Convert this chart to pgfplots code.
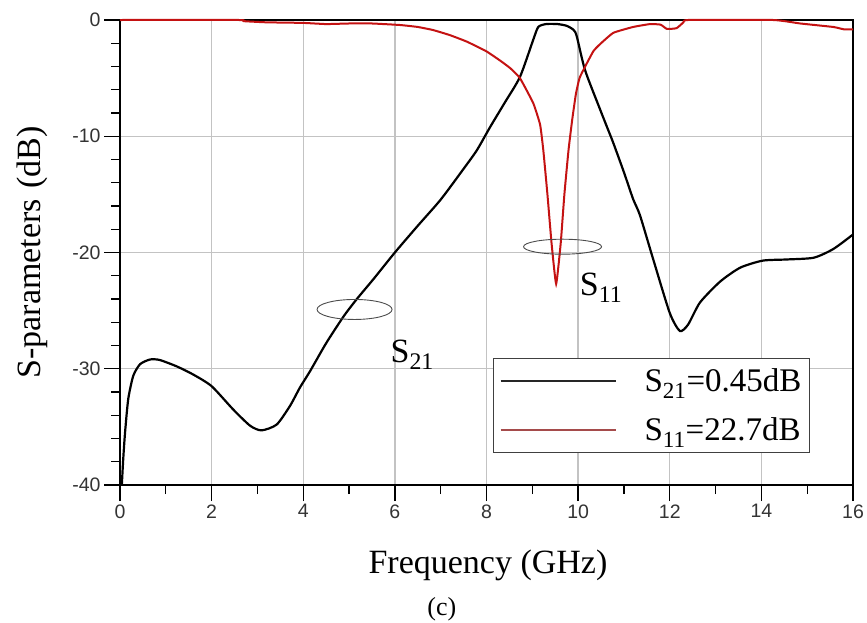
\documentclass[border=0pt]{standalone}
\usepackage{fontspec}
\setmainfont{Liberation Serif}
\newfontfamily\tickfont{Liberation Sans}
\usepackage{pgfplots}
\pgfplotsset{compat=1.18}
\definecolor{s11red}{RGB}{196,18,18}
\definecolor{legred}{RGB}{165,75,75}
\definecolor{gridgray}{RGB}{195,195,195}

\begin{document}
\begin{tikzpicture}[x=1pt,y=1pt]
\useasboundingbox (0,0) rectangle (867,622);
\begin{axis}[
  at={(120pt,137pt)}, anchor=south west,
  scale only axis, width=733pt, height=465pt,
  xmin=0, xmax=16, ymin=-40, ymax=0,
  xtick={0,2,...,16}, ytick={-40,-30,...,0},
  minor x tick num=1, minor y tick num=4,
  tick pos=left, tick align=outside,
  major tick length=16pt, minor tick length=9pt,
  every tick/.style={black, line width=1.3pt},
  grid=major, major grid style={gridgray, line width=1.3pt},
  axis line style={black, line width=1.3pt},
  clip=false,
  /pgf/number format/assume math mode=true,
  ticklabel style={font=\tickfont\fontsize{19.5}{20}\selectfont, text=black!80},
  xlabel={Frequency (GHz)},
  xlabel style={at={(axis description cs:0.502,-0.172)}, anchor=center, font=\fontsize{34}{38}\selectfont},
  ylabel={S-parameters\hspace{0.3em}(dB)},
  ylabel style={at={(axis description cs:-0.12,0.5)}, anchor=center, font=\fontsize{34}{38}\selectfont},
  legend style={at={(axis description cs:0.509,0.273)}, anchor=north west, draw=black!75, line width=0.9pt, fill=white,
    font=\fontsize{33}{36}\selectfont, inner xsep=6pt, inner ysep=8pt, row sep=21pt,
    /tikz/every odd column/.append style={column sep=26pt}},
  legend cell align=left,
  legend image code/.code={\draw[#1] (0pt,0pt) -- (115pt,0pt);},
]
\addlegendimage{black!85, line width=2pt}
\addlegendentry{S\textsubscript{21}=0.45dB}
\addlegendimage{legred, line width=1.6pt}
\addlegendentry{S\textsubscript{11}=22.7dB}

\addplot[forget plot, black, line width=2.2pt, smooth, tension=0.4] coordinates {
(0.04,-40) (0.07,-37.8) (0.11,-35.5) (0.18,-32.6) (0.29,-30.6) (0.44,-29.6) (0.66,-29.2)
(0.87,-29.25) (1.24,-29.8) (1.6,-30.5) (2.0,-31.5) (2.47,-33.5) (2.84,-34.9) (3.09,-35.3)
(3.42,-34.8) (3.71,-33.2) (3.93,-31.6) (4.15,-30.2) (4.5,-27.8) (4.88,-25.5) (5.17,-24.0)
(5.53,-22.3) (6.0,-20.0) (6.5,-17.7) (7.0,-15.45) (7.5,-12.8) (7.79,-11.2) (8.08,-9.2)
(8.4,-7.1) (8.73,-4.9) (9.02,-1.7) (9.13,-0.6) (9.3,-0.35) (9.55,-0.35) (9.75,-0.5)
(9.9,-0.85) (9.97,-1.4) (10.15,-4.3) (10.48,-7.7) (10.63,-9.2) (10.77,-10.6) (11.0,-13.1)
(11.2,-15.4) (11.35,-16.8) (11.64,-20.6) (12.0,-25.2) (12.22,-26.75) (12.4,-26.2)
(12.66,-24.3) (13.1,-22.5) (13.54,-21.3) (14.03,-20.7) (14.55,-20.6) (15.14,-20.45)
(15.57,-19.7) (16,-18.45)
};
\addplot[forget plot, s11red, line width=2pt, smooth, tension=0.25] coordinates {
(0,0) (2.6,0) (2.7,-0.1) (3.2,-0.2) (4.0,-0.25) (4.5,-0.35) (5.0,-0.3) (5.5,-0.3)
(6.11,-0.43) (6.5,-0.6) (6.83,-0.86) (7.2,-1.3) (7.57,-1.86) (8.0,-2.7) (8.3,-3.5)
(8.52,-4.15) (8.73,-5.0) (9.02,-7.15) (9.17,-9.0) (9.24,-11.2) (9.33,-15) (9.42,-19.2)
(9.52,-22.7) (9.62,-19.2) (9.7,-15) (9.79,-11.2) (9.87,-8.6) (9.95,-6.4) (10.04,-4.9)
(10.33,-2.7) (10.5,-2.0) (10.77,-1.1) (11.2,-0.6) (11.57,-0.35) (11.8,-0.4) (11.94,-0.77)
(12.15,-0.7) (12.3,-0.2) (12.4,0) (14.26,0) (14.85,-0.3) (15.57,-0.6) (15.8,-0.8) (16,-0.8)
};

\draw[black!70, line width=0.9pt] (axis cs:5.12,-24.9) ellipse [x radius=37.5pt, y radius=10pt];
\draw[black!70, line width=0.9pt] (axis cs:9.66,-19.5) ellipse [x radius=39pt, y radius=7.5pt];
\node[font=\fontsize{34}{38}\selectfont] at (axis cs:6.38,-28.8) {S\textsubscript{21}};
\node[font=\fontsize{34}{38}\selectfont] at (axis cs:10.5,-23.0) {S\textsubscript{11}};
\node[font=\fontsize{26}{30}\selectfont] at (axis description cs:0.439,-0.267) {(c)};
\end{axis}
\end{tikzpicture}
\end{document}
